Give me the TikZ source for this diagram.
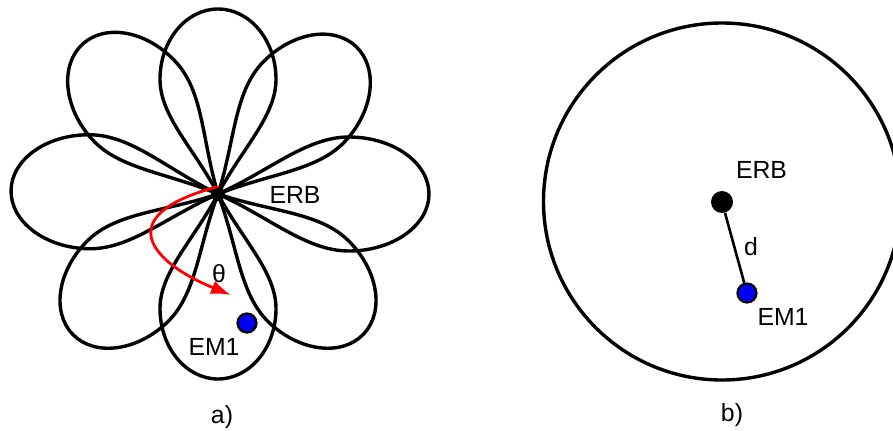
\documentclass[tikz,border=0pt]{standalone}
\usepackage{fontspec}
\setmainfont{Liberation Sans}
\usepackage{xcolor}
\usepackage{tikz}
\usetikzlibrary{arrows.meta}
\definecolor{Red}{HTML}{FF0000}
\definecolor{Blue}{HTML}{0000FF}
\tikzset{
  lobe/.style={line width=1.7pt,draw=black,line join=round},
  petal/.pic={\draw[lobe] (0,0) .. controls (0.25,0.42) and (0.42,1) .. (0.62,1)
      .. controls (0.83,1) and (1,0.55) .. (1,0)
      .. controls (1,-0.55) and (0.83,-1) .. (0.62,-1)
      .. controls (0.42,-1) and (0.25,-0.42) .. (0,0) -- cycle;},
  erbdot/.style={circle,fill=black,inner sep=0pt},
  emdot/.style={circle,draw=black,line width=1.1pt,fill=Blue,inner sep=0pt,minimum size=9.5pt},
  lbl/.style={inner sep=0pt,font=\fontsize{12.4}{14}\selectfont},
  thetaline/.style={-{Latex[length=10pt,width=7pt]},line width=1.4pt,color=Red},
  distline/.style={line width=1.3pt,draw=black}
}
\begin{document}
\begin{tikzpicture}[x=0.5pt,y=0.5pt]
  \useasboundingbox (0,0) rectangle (893,430);
  % a) beam pattern
  \pic[rotate=90,xscale=185,yscale=58] at (218,236) {petal};
  \pic[rotate=270,xscale=185,yscale=58] at (218,236) {petal};
  \pic[rotate=179,xscale=207,yscale=57] at (218,236) {petal};
  \pic[rotate=0,xscale=211,yscale=57] at (218,236) {petal};
  \pic[rotate=132,xscale=202,yscale=57] at (218,236) {petal};
  \pic[rotate=47,xscale=202,yscale=57] at (218,236) {petal};
  \pic[rotate=224,xscale=202,yscale=57] at (218,236) {petal};
  \pic[rotate=316,xscale=202,yscale=57] at (218,236) {petal};
  \node[erbdot,minimum size=7pt] (erbA) at (218,236) {};
  \node[lbl] (erbAlabel) at (295,235) {ERB};
  \coordinate (thetaend) at (231,135);
  \draw[thetaline] (erbA.north) .. controls (110,215) and (150,168) .. (thetaend);
  \node[lbl] (theta) at (219,156) {θ};
  \node[emdot] (emA) at (247,107) {};
  \node[lbl] (emAlabel) at (214,83) {EM1};
  \node[lbl] (capA) at (222,13) {a)};
  % b) omni coverage
  \draw[lobe] (722,228.5) circle[radius=178.5];
  \node[erbdot,minimum size=11pt] (erbB) at (722,228) {};
  \node[emdot] (emB) at (747,137) {};
  \draw[distline] (erbB) -- (emB);
  \node[lbl] (erbBlabel) at (761.5,260.5) {ERB};
  \node[lbl] (dist) at (751,183) {d};
  \node[lbl] (emBlabel) at (783,113) {EM1};
  \node[lbl] (capB) at (732,15) {b)};
\end{tikzpicture}
\end{document}
